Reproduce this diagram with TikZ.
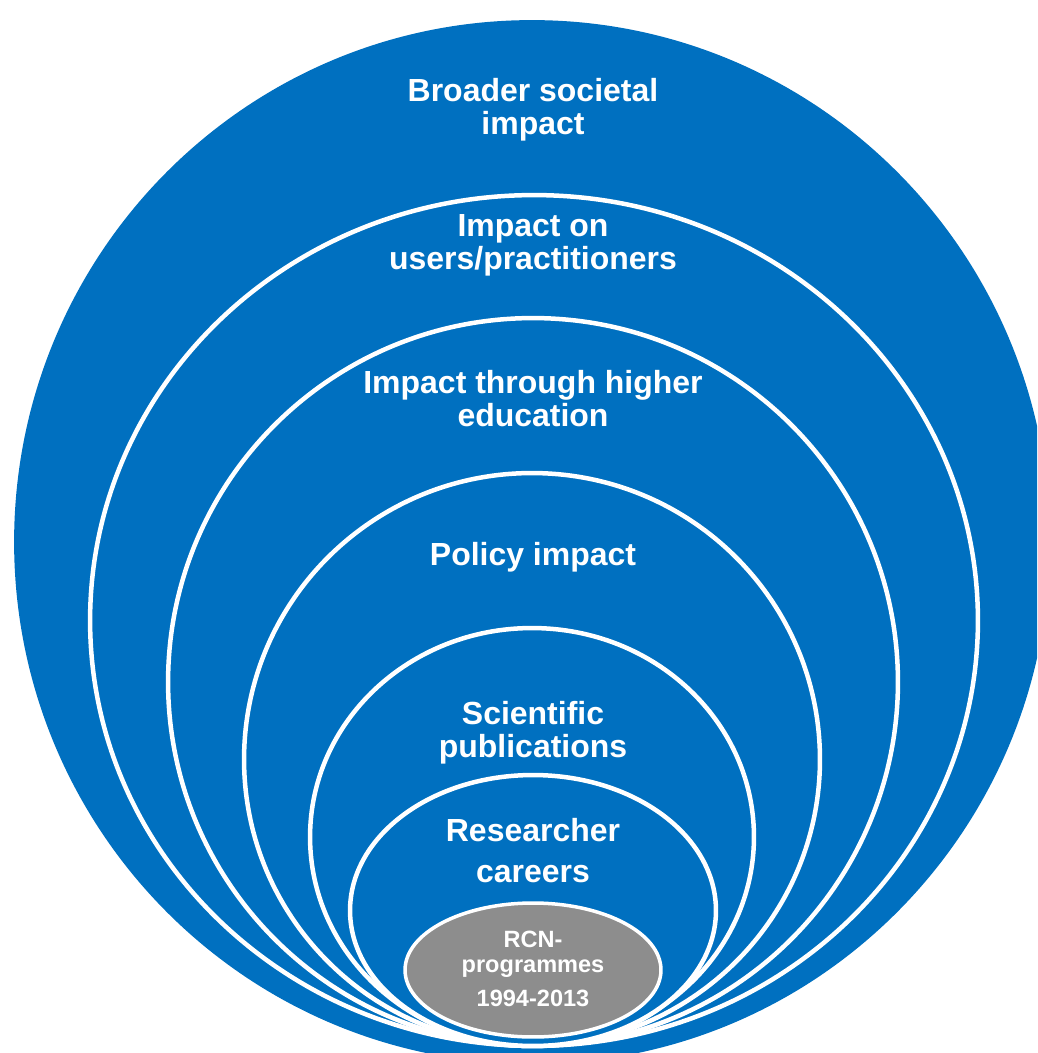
\documentclass[tikz,border=0pt]{standalone}
\usepackage{fontspec}
\setmainfont{Liberation Sans}
\usetikzlibrary{shapes.geometric}
\definecolor{rcnblue}{RGB}{0,112,192}
\definecolor{rcngrey}{RGB}{141,141,141}
\begin{document}
\begin{tikzpicture}[x=0.02cm, y=-0.02cm]
		\tikzset{ring/.style={ellipse, fill=rcnblue, draw=white, line width=0.09cm, inner sep=0pt}};
		\tikzset{lbl/.style={text=white, font=\bfseries\fontsize{18.2}{18.8}\selectfont, align=center}};
		\tikzset{core/.style={ellipse, fill=rcngrey, draw=white, line width=0.07cm, inner sep=0pt}};
		\useasboundingbox (0,0) rectangle (1037,1053);
		\clip (0,0) rectangle (1037,1053);

		\node[ring, draw=none, minimum width=20.72cm, minimum height=20.88cm] (r0) at (532,542) {};
		\node[ring, minimum width=17.76cm, minimum height=17.02cm] (r1) at (534,620.5) {};
		\node[ring, minimum width=14.6cm, minimum height=14.56cm] (r2) at (533,682) {};
		\node[ring, minimum width=11.52cm, minimum height=11.46cm] (r3) at (532,759.5) {};
		\node[ring, minimum width=8.88cm, minimum height=8.36cm] (r4) at (532,837) {};
		\node[ring, minimum width=7.32cm, minimum height=5.42cm] (r5) at (533,910.5) {};
		\node[core, minimum width=5.12cm, minimum height=2.68cm] (rcn) at (533,970) {};

		\node[lbl] (t0) at (533,110) {Broader societal\\impact};
		\node[lbl] (t1) at (533,245) {Impact on\\users/practitioners};
		\node[lbl] (t2) at (533,399) {Impact through higher\\education};
		\node[lbl] (t3) at (533,557) {Policy impact};
		\node[lbl] (t4) at (533,733) {Scientific\\publications};
		\node[lbl] (t5) at (533,851) {Researcher\\[0.16cm]careers};
		\node[lbl, font=\bfseries\fontsize{13.4}{14.2}\selectfont] (t6) at (533,969) {RCN-\\programmes\\[0.18cm]1994-2013};

	\end{tikzpicture}
\end{document}
